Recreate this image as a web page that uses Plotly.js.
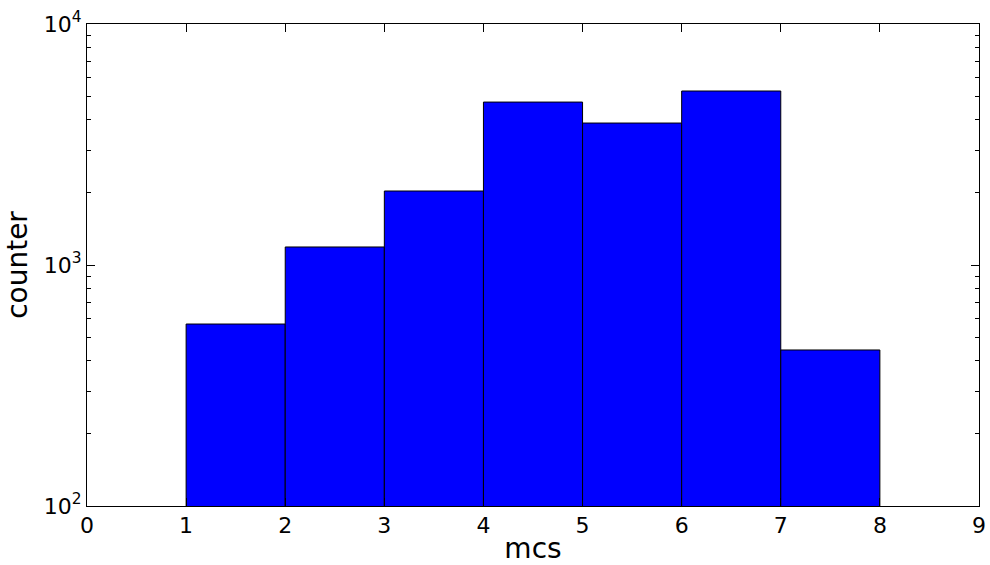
<!DOCTYPE html>
<html>
<head>
<meta charset="utf-8">
<script src="https://cdn.plot.ly/plotly-3.0.1.min.js"></script>
<style>html,body{margin:0;padding:0;background:#fff;}#chart{width:990px;height:565px;}</style>
</head>
<body>
<div id="chart"></div>
<script>
var binStarts = [1, 2, 3, 4, 5, 6, 7];
var counts = [569, 1188, 2028, 4743, 3882, 5272, 444];
var xTicks = [0, 1, 2, 3, 4, 5, 6, 7, 8, 9];
var yTickVals = [100, 1000, 10000];
var yTickText = ['10<sup>2</sup>', '10<sup>3</sup>', '10<sup>4</sup>'];

var trace = {
  type: 'bar',
  x: binStarts,
  y: counts,
  width: binStarts.map(function(){return 1;}),
  offset: 0,
  marker: {color: '#0000ff', line: {color: '#000000', width: 1}},
  hoverinfo: 'x+y'
};

var font = {family: 'DejaVu Sans, sans-serif', color: '#000', size: 22};
var layout = {
  width: 990, height: 565,
  margin: {l: 87, r: 11, t: 24, b: 59, pad: 0},
  paper_bgcolor: '#fff', plot_bgcolor: '#fff',
  showlegend: false,
  font: font,
  bargap: 0,
  xaxis: {
    range: [0, 9], tickvals: xTicks, ticktext: xTicks.map(String),
    ticks: 'inside', ticklen: 8, tickcolor: '#000', tickwidth: 1,
    showline: true, linecolor: '#000', linewidth: 1, mirror: 'ticks',
    showgrid: false, zeroline: false,
    tickfont: font,
    title: {text: 'mcs', font: {family: 'DejaVu Sans, sans-serif', size: 28, color: '#000'}, standoff: 6}
  },
  yaxis: {
    type: 'log', range: [2, 4],
    tickvals: yTickVals, ticktext: yTickText,
    ticks: 'inside', ticklen: 8, tickcolor: '#000', tickwidth: 1,
    minor: {ticks: 'inside', ticklen: 4, tickcolor: '#000', tickwidth: 1, showgrid: false,
            tickvals: [200,300,400,500,600,700,800,900,2000,3000,4000,5000,6000,7000,8000,9000]},
    showline: true, linecolor: '#000', linewidth: 1, mirror: 'ticks',
    showgrid: false, zeroline: false,
    tickfont: font,
    title: {text: 'counter', font: {family: 'DejaVu Sans, sans-serif', size: 28, color: '#000'}, standoff: 8}
  }
};

Plotly.newPlot('chart', [trace], layout, {displayModeBar: false, staticPlot: true});
</script>
</body>
</html>
